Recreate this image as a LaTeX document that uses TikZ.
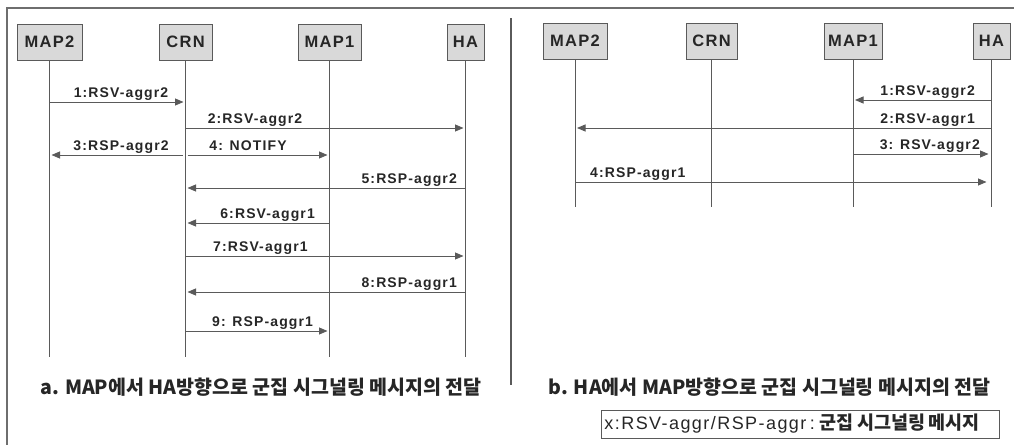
\documentclass[tikz,border=0pt]{standalone}
\usepackage{fontspec}
\setmainfont{Liberation Sans}
\newfontfamily\lbl[LetterSpace=8]{Liberation Sans}
\newfontfamily\kr{Noto Sans CJK KR}
\usetikzlibrary{arrows.meta}
\definecolor{ink}{HTML}{262626}
\definecolor{rulegray}{HTML}{5A5A5A}
\definecolor{framegray}{HTML}{6E6E6E}
\definecolor{boxfill}{HTML}{D9D9D9}

% one message: options, sender, receiver, height, name
\newcommand\msgarrow[5][]{%
  \coordinate (#5s) at (#2 |- 0,#4);
  \coordinate (#5e) at (#3 |- 0,#4);
  \draw[msg,#1] (#5s) -- (#5e);}

% one lifeline: actor node, lower end
\newcommand\lifeline[2]{%
  \coordinate (#1end) at (#1 |- 0,#2);
  \draw[life] (#1.south) -- (#1end);}

\begin{document}
\begin{tikzpicture}[x=1pt,y=-1pt,
  actor/.style={draw=rulegray, fill=boxfill, line width=0.9pt, inner sep=0pt,
    minimum height=36pt, text=ink, font=\lbl\bfseries\fontsize{16.5}{16.5}\selectfont},
  life/.style={draw=rulegray, line width=0.8pt},
  msg/.style={draw=rulegray, line width=0.9pt, shorten >=2pt,
    -{Triangle[length=8.5pt,width=7pt]}},
  lab/.style={inner sep=0pt, text=ink, font=\lbl\bfseries\fontsize{14}{14}\selectfont},
  captext/.style={inner sep=0pt, text=ink, font=\kr\bfseries\fontsize{19.5}{19.5}\selectfont},
  legend/.style={draw=rulegray, line width=0.9pt, inner xsep=3pt, inner ysep=0pt,
    text width=392pt, align=left, minimum height=28pt, text=ink}]
\useasboundingbox (0,0) rectangle (1014,445);

% outer frame (top and left edges) and the panel divider
\coordinate (frTL) at (7,8);
\coordinate (frTR) at (1014,8);
\coordinate (frBL) at (7,445);
\draw[framegray, line width=1.1pt] (frTR) -- (frTL) -- (frBL);
\coordinate (divT) at (511,18);
\coordinate (divB) at (511,385);
\draw[rulegray, line width=2pt] (divT) -- (divB);

% ---------- panel a ----------
\node[actor, minimum width=65pt] (aMAP2) at (49.5,42) {MAP2};
\node[actor, minimum width=53pt] (aCRN)  at (185.5,42) {CRN};
\node[actor, minimum width=63pt] (aMAP1) at (329.5,42) {MAP1};
\node[actor, minimum width=37pt] (aHA)   at (465.5,42) {HA};
\lifeline{aMAP2}{357}
\lifeline{aCRN}{357}
\lifeline{aMAP1}{357}
\lifeline{aHA}{357}

\msgarrow{aMAP2}{aCRN}{102}{am1}
\node[lab, anchor=base] (la1) at (121,97) {1:RSV-aggr2};
\msgarrow{aCRN}{aHA}{128}{am2}
\node[lab, anchor=base] (la2) at (255,123) {2:RSV-aggr2};
\msgarrow[shorten <=3pt]{aCRN}{aMAP2}{155}{am3}
\node[lab, anchor=base] (la3) at (121,150) {3:RSP-aggr2};
\msgarrow[shorten <=2pt]{aCRN}{aMAP1}{155}{am4}
\node[lab, anchor=base] (la4) at (248,150) {4: NOTIFY};
\msgarrow{aHA}{aCRN}{188}{am5}
\node[lab, anchor=base east] (la5) at (457,183) {5:RSP-aggr2};
\msgarrow{aMAP1}{aCRN}{223}{am6}
\node[lab, anchor=base east] (la6) at (315,218) {6:RSV-aggr1};
\msgarrow{aCRN}{aHA}{256}{am7}
\node[lab, anchor=base west] (la7) at (213,251) {7:RSV-aggr1};
\msgarrow{aHA}{aCRN}{292}{am8}
\node[lab, anchor=base east] (la8) at (457,287) {8:RSP-aggr1};
\msgarrow{aCRN}{aMAP1}{331}{am9}
\node[lab, anchor=base west] (la9) at (212,326) {9: RSP-aggr1};

\node[captext] (capA) at (261,387) {a. MAP에서 HA방향으로 군집 시그널링 메시지의 전달};

% ---------- panel b ----------
\node[actor, minimum width=64pt] (bMAP2) at (575,41) {MAP2};
\node[actor, minimum width=51pt] (bCRN)  at (711.5,41) {CRN};
\node[actor, minimum width=58pt] (bMAP1) at (853,41) {MAP1};
\node[actor, minimum width=37pt] (bHA)   at (991.5,41) {HA};
\lifeline{bMAP2}{207}
\lifeline{bCRN}{207}
\lifeline{bMAP1}{207}
\lifeline{bHA}{207}

\msgarrow{bHA}{bMAP1}{100}{bm1}
\node[lab, anchor=base east] (lb1) at (975,95) {1:RSV-aggr2};
\msgarrow{bHA}{bMAP2}{128}{bm2}
\node[lab, anchor=base east] (lb2) at (975,123) {2:RSV-aggr1};
\msgarrow[shorten >=3pt]{bMAP1}{bHA}{154}{bm3}
\node[lab, anchor=base east] (lb3) at (980,149) {3: RSV-aggr2};
\msgarrow[shorten >=5pt]{bMAP2}{bHA}{182}{bm4}
\node[lab, anchor=base west] (lb4) at (590,177) {4:RSP-aggr1};

\node[captext] (capB) at (769.5,387) {b. HA에서 MAP방향으로 군집 시그널링 메시지의 전달};

% key to the message names
\node[legend, anchor=west] (key) at (601,424)
  {{\lbl\fontsize{18}{18}\selectfont x:RSV-aggr/RSP-aggr : }{\kr\bfseries\fontsize{18.5}{18.5}\selectfont 군집 시그널링 메시지}};
\end{tikzpicture}
\end{document}
